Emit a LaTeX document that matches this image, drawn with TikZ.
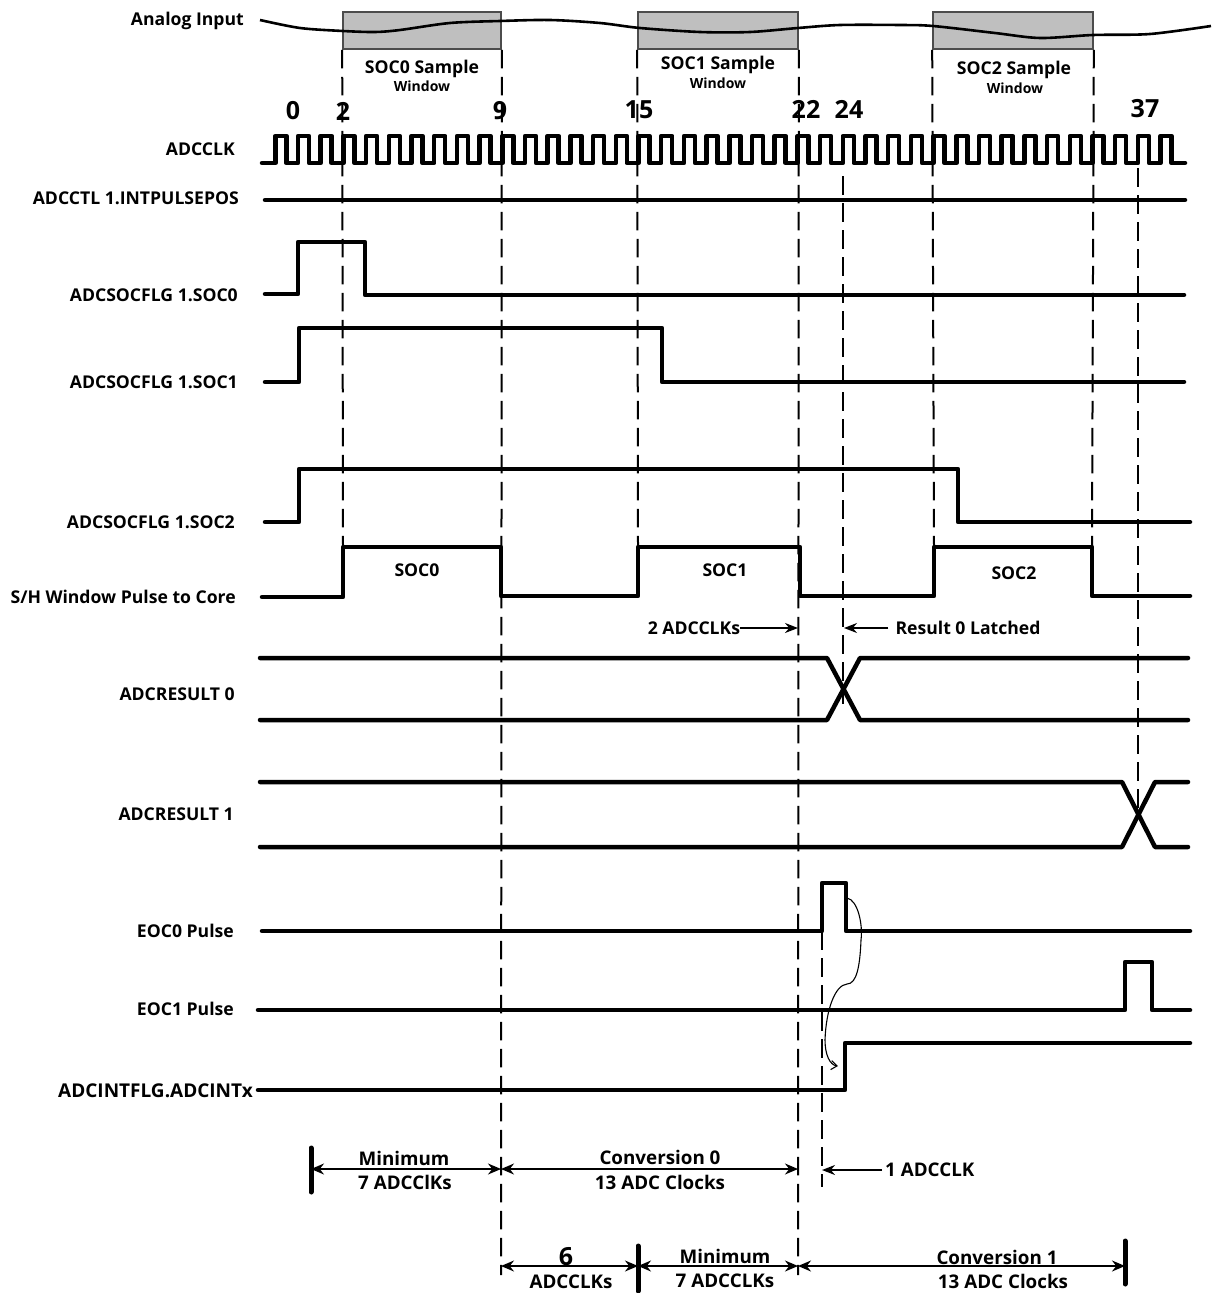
\documentclass[tikz,border=0pt]{standalone}
\usepackage{fontspec}
\setmainfont{Open Sans}
\usepackage{tikz}
\usetikzlibrary{arrows.meta,positioning,calc}
\definecolor{wingray}{HTML}{BFBFBF}

\begin{document}
\begin{tikzpicture}[
  x=1pt,y=-1pt,
  font=\fontsize{17.6}{20}\selectfont\bfseries,
  sig/.style={line width=4.5pt,line join=round,line cap=round},
  lbl/.style={anchor=east,inner sep=0pt},
  txt/.style={inner sep=0pt,align=center},
  big/.style={inner sep=0pt,align=center,font=\fontsize{18.8}{22}\selectfont\bfseries},
  small/.style={inner sep=0pt,align=center,font=\fontsize{14}{16}\selectfont\bfseries},
  num/.style={inner sep=0pt,font=\fontsize{25}{29}\selectfont\bfseries},
  win/.style={draw=black!70,line width=1.6pt,fill=wingray,minimum height=37pt,inner sep=0pt},
  guide/.style={line width=2pt,dash pattern=on 18.5pt off 8.5pt},
  dim/.style={{Stealth[length=13pt,width=11pt]}-{Stealth[length=13pt,width=11pt]},line width=1.6pt},
  note/.style={-{Stealth[length=13pt,width=10pt]},line width=1.6pt},
  bar/.style={line width=5pt,line cap=round}
]
\useasboundingbox (0,0) rectangle (1211,1293);

\node[win,minimum width=158pt] (win0) at (422,30.5) {};
\node[win,minimum width=160pt] (win1) at (718,30.5) {};
\node[win,minimum width=160pt] (win2) at (1013,30.5) {};
\draw[line width=2.6pt] plot[smooth] coordinates {(260,20) (300,28) (343,31) (375,32) (400,30)
  (450,23) (500,21) (550,20) (600,23) (640,28) (700,32) (750,32) (798,28) (840,25) (900,25)
  (933,26) (995,33) (1040,38) (1093,35) (1150,34) (1211,26)};

\node[txt] (s0a) at (422,69) {SOC0 Sample};
\node[small] (s0b) at (422,86) {Window};
\node[txt] (s1a) at (718,65) {SOC1 Sample};
\node[small] (s1b) at (718,83) {Window};
\node[txt] (s2a) at (1014,70) {SOC2 Sample};
\node[small] (s2b) at (1015,88) {Window};

\node[num] (n0)  at (293,111) {0};
\node[num] (n2)  at (343,111) {2};
\node[num] (n9)  at (500,111) {9};
\node[num] (n15) at (639,110) {15};
\node[num] (n22) at (806,109) {22};
\node[num] (n24) at (849,109) {24};
\node[num] (n37) at (1145,109) {37};

\node[lbl] (lana) at (244,21)  {Analog Input};
\node[lbl] (lclk) at (235,149) {ADCCLK};
\node[lbl] (lctl) at (239,198) {ADCCTL 1.INTPULSEPOS};
\node[lbl] (ls0)  at (238,295) {ADCSOCFLG 1.SOC0};
\node[lbl] (ls1)  at (238,382) {ADCSOCFLG 1.SOC1};
\node[lbl] (ls2)  at (235,522) {ADCSOCFLG 1.SOC2};
\node[lbl] (lsh)  at (236,597) {S/H Window Pulse to Core};
\node[lbl] (lr0)  at (235,694) {ADCRESULT 0};
\node[lbl] (lr1)  at (234,814) {ADCRESULT 1};
\node[lbl] (leo0) at (234,931) {EOC0 Pulse};
\node[lbl] (leo1) at (234,1009) {EOC1 Pulse};
\node[lbl,font=\fontsize{19}{22}\selectfont\bfseries] (lint) at (253,1091) {ADCINTFLG.ADCINTx};

\draw[sig] (262,163) -- (275,163)
  \foreach \n in {-1,...,38} { -- ({298+22.7*\n},163) -- ({298+22.7*\n},136) -- ({309+22.7*\n},136) -- ({309+22.7*\n},163) }
  -- (1185,163);
\draw[sig] (265,200) -- (1185,200);
\draw[sig] (265,294) -- (298,294) -- (298,242) -- (365,242) -- (365,295) -- (1184,295);
\draw[sig] (265,382) -- (299,382) -- (299,328) -- (662,328) -- (662,382) -- (1184,382);
\draw[sig] (265,522) -- (299,522) -- (299,469) -- (958,469) -- (958,522) -- (1190,522);
\draw[sig] (262,597) -- (343,597) -- (343,547) -- (501,547) -- (501,596) -- (638,596) -- (638,547)
  -- (800,547) -- (800,596) -- (934,596) -- (934,547) -- (1092,547) -- (1092,596) -- (1190,596);
\draw[sig] (260,658) -- (827,658) -- (860,720) -- (1188,720);
\draw[sig] (260,720) -- (827,720) -- (860,658) -- (1188,658);
\draw[sig] (260,782) -- (1122,782) -- (1155,847) -- (1188,847);
\draw[sig] (260,847) -- (1122,847) -- (1155,782) -- (1188,782);
\draw[sig] (262,931) -- (822,931) -- (822,883) -- (846,883) -- (846,931) -- (1190,931);
\draw[sig] (258,1010) -- (1125,1010) -- (1125,962) -- (1152,962) -- (1152,1010) -- (1190,1010);
\draw[sig] (258,1090) -- (845,1090) -- (845,1043) -- (1190,1043);

\node[txt] (p0) at (417,570) {SOC0};
\node[txt] (p1) at (725,570) {SOC1};
\node[txt] (p2) at (1014,573) {SOC2};

\coordinate (c2)  at (343,547);
\coordinate (c9)  at (501,1275);
\coordinate (c15) at (638,547);
\coordinate (c22) at (798,1275);
\coordinate (c33) at (934,547);
\coordinate (c40) at (1092,547);
\draw[guide] (win0.south west) -- (c2);
\draw[guide] (win0.south east) -- (c9);
\draw[guide] (win1.south west) -- (c15);
\draw[guide] (win1.south east) -- (c22);
\draw[guide] (win2.south west) -- (c33);
\draw[guide] (win2.south east) -- (c40);
\draw[guide] (843,176) -- (843,704);
\draw[guide] (1138,168) -- (1138,815);
\draw[guide] (822,931) -- (822,1187);

\node[txt] (t2clk) at (694,628) {2 ADCCLKs};
\node[txt] (tres) at (968,628) {Result 0 Latched};
\coordinate (p22) at (798,628);
\coordinate (p24) at (844,628);
\draw[note] (t2clk) -- (p22);
\draw[note,shorten <=7pt] (tres) -- (p24);

\draw[-{Straight Barb[length=6pt,width=9pt]},line width=1.1pt] (847,898) .. controls (858,900) and (863,925) .. (861,940)
  .. controls (860,965) and (857,984) .. (847,984) .. controls (835,985) and (826,1010) .. (825,1040)
  .. controls (825,1055) and (830,1065) .. (838,1066);

\coordinate (a0) at (311,1169);
\coordinate (a1) at (501,1169);
\coordinate (a2) at (798,1169);
\coordinate (a3) at (822,1170);
\coordinate (b0) at (501,1266);
\coordinate (b1) at (638,1266);
\coordinate (b2) at (798,1266);
\coordinate (b3) at (1125,1266);

\draw[bar] (311,1148) -- (311,1192);
\draw[bar] (638,1246) -- (638,1291);
\draw[bar] (1125,1241) -- (1125,1284);
\draw[dim] (a0) -- (a1);
\draw[dim] (a1) -- (a2);
\draw[dim] (b0) -- (b1);
\draw[dim] (b1) -- (b2);
\draw[dim] (b2) -- (b3);

\node[big] (m0a) at (404,1158) {Minimum};
\node[big] (m0b) at (405,1182) {7 ADCClKs};
\node[big] (c0a) at (660,1157) {Conversion 0};
\node[big] (c0b) at (660,1182) {13 ADC Clocks};
\node[big,anchor=west] (t1clk) at (885,1170) {1 ADCCLK};
\draw[note,shorten <=3pt] (t1clk) -- (a3);
\node[num] (six) at (566,1257) {6};
\node[big] (sixb) at (571,1282) {ADCCLKs};
\node[big] (m1a) at (725,1256) {Minimum};
\node[big] (m1b) at (725,1281) {7 ADCCLKs};
\node[big] (c1a) at (997,1257) {Conversion 1};
\node[big] (c1b) at (1003,1281) {13 ADC Clocks};
\end{tikzpicture}
\end{document}
